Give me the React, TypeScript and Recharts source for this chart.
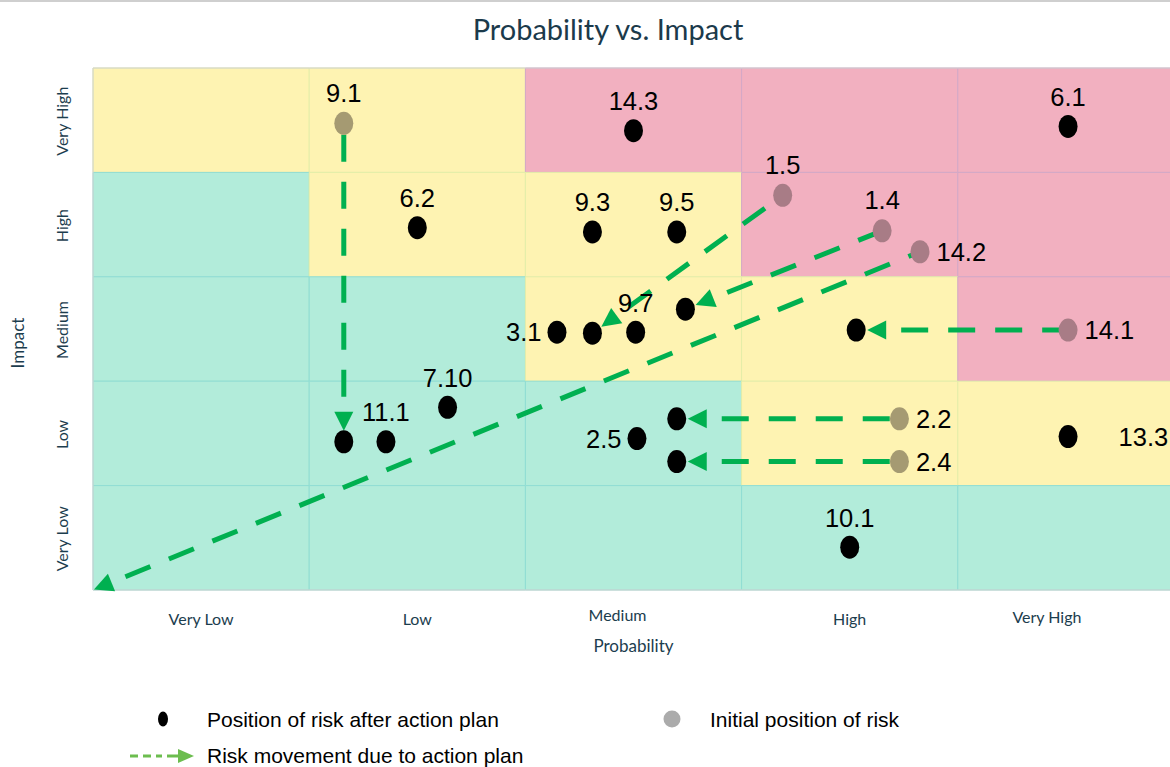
import React from "react";
import {
  ScatterChart,
  Scatter,
  XAxis,
  YAxis,
  ReferenceArea,
  ReferenceLine,
  LabelList,
} from "recharts";

// 5x5 scale used on both axes
const levels = ["Very Low", "Low", "Medium", "High", "Very High"];
const levelTicks = [0.5, 1.5, 2.5, 3.5, 4.5];

// zone of each cell, rows from Very High impact down to Very Low
const zoneRows = [
  ["amber", "amber", "red", "red", "red"],
  ["green", "amber", "amber", "red", "red"],
  ["green", "green", "amber", "amber", "red"],
  ["green", "green", "green", "amber", "amber"],
  ["green", "green", "green", "green", "green"],
];

// risks after the action plan, grouped by where their id is written
const afterLabelTop = [
  { x: 2.5, y: 4.4, id: "14.3" },
  { x: 4.51, y: 4.44, id: "6.1" },
  { x: 1.5, y: 3.47, id: "6.2" },
  { x: 2.31, y: 3.43, id: "9.3" },
  { x: 2.7, y: 3.43, id: "9.5" },
  { x: 2.51, y: 2.47, id: "9.7" },
  { x: 1.355, y: 1.42, id: "11.1" },
  { x: 1.64, y: 1.75, id: "7.10" },
  { x: 3.5, y: 0.41, id: "10.1" },
];
const afterLabelLeft = [
  { x: 2.146, y: 2.47, id: "3.1" },
  { x: 2.516, y: 1.45, id: "2.5" },
];
const afterLabelRight = [{ x: 4.51, y: 1.47, id: "13.3" }];
const afterUnlabelled = [
  { x: 2.31, y: 2.46, id: "1.5" },
  { x: 2.74, y: 2.69, id: "1.4" },
  { x: 3.53, y: 2.49, id: "14.1" },
  { x: 1.16, y: 1.42, id: "9.1" },
  { x: 2.7, y: 1.64, id: "2.2" },
  { x: 2.7, y: 1.23, id: "2.4" },
];

// initial positions of the risks that moved
const initialLabelTop = [
  { x: 1.16, y: 4.47, id: "9.1" },
  { x: 3.19, y: 3.78, id: "1.5" },
  { x: 3.65, y: 3.44, id: "1.4" },
];
const initialLabelRight = [
  { x: 3.825, y: 3.24, id: "14.2" },
  { x: 4.51, y: 2.49, id: "14.1" },
  { x: 3.73, y: 1.64, id: "2.2" },
  { x: 3.73, y: 1.23, id: "2.4" },
];

// movement from initial position to the position after the plan
const moves = [
  { id: "9.1", x1: 1.16, y1: 4.47, x2: 1.16, y2: 1.42 },
  { id: "1.5", x1: 3.19, y1: 3.78, x2: 2.31, y2: 2.46 },
  { id: "1.4", x1: 3.65, y1: 3.44, x2: 2.74, y2: 2.69 },
  { id: "14.2", x1: 3.825, y1: 3.24, x2: 0, y2: 0 },
  { id: "14.1", x1: 4.51, y1: 2.49, x2: 3.53, y2: 2.49 },
  { id: "2.2", x1: 3.73, y1: 1.64, x2: 2.7, y2: 1.64 },
  { id: "2.4", x1: 3.73, y1: 1.23, x2: 2.7, y2: 1.23 },
];

const zoneFill: Record<string, string> = { green: "#B2ECDA", amber: "#FEF3B2", red: "#F2B0C0" };
const zoneStroke: Record<string, string> = { green: "#90DDD3", amber: "#E4EDA8", red: "#D3A8C6" };
const initialFill: Record<string, string> = { green: "#9DB3A8", amber: "#A59A72", red: "#A87C86" };

const MOVE_GREEN = "#00B050";
const LEGEND_GREEN = "#6CBD4F";
const AXIS_TEXT = "#1C3D4E";
const TICK_FONT = "Lato, 'Open Sans', sans-serif";
const MARK_FONT = "'Liberation Sans', Arial, sans-serif";

const zoneAt = (x: number, y: number) => {
  const col = Math.min(4, Math.max(0, Math.floor(x)));
  const row = Math.min(4, Math.max(0, 4 - Math.floor(y)));
  return zoneRows[row][col];
};

const AfterDot = (p: any) => <ellipse cx={p.cx} cy={p.cy} rx={9.5} ry={11.5} fill="#000" />;

const InitialDot = (p: any) => (
  <ellipse cx={p.cx} cy={p.cy} rx={9.5} ry={11.5} fill={initialFill[zoneAt(p.payload.x, p.payload.y)]} />
);

// dashed arrow, pattern counted back from the arrow head
const MoveArrow = (props: any) => {
  const { x1, y1, x2, y2, gap } = props;
  if ([x1, y1, x2, y2].some((v) => v == null || isNaN(v))) return null;
  const len = Math.hypot(x2 - x1, y2 - y1);
  const ux = (x2 - x1) / len;
  const uy = (y2 - y1) / len;
  const tipX = x2 - ux * gap;
  const tipY = y2 - uy * gap;
  const head = 19;
  const half = 9.5;
  const bx = tipX - ux * head;
  const by = tipY - uy * head;
  return (
    <g>
      <line
        x1={bx}
        y1={by}
        x2={x1}
        y2={y1}
        stroke={MOVE_GREEN}
        strokeWidth={5}
        strokeDasharray="27 20"
        strokeDashoffset={32}
      />
      <polygon
        points={`${tipX},${tipY} ${bx - uy * half},${by + ux * half} ${bx + uy * half},${by - ux * half}`}
        fill={MOVE_GREEN}
      />
    </g>
  );
};

const xTickNudge: Record<string, [number, number]> = {
  Medium: [-16, -4],
  "Very High": [-19, -2],
};

const XTick = ({ x, y, payload }: any) => {
  const label = levels[Math.floor(payload.value)];
  const [dx, dy] = xTickNudge[label] ?? [0, 0];
  return (
    <text x={x + dx} y={y + 35 + dy} textAnchor="middle" fill={AXIS_TEXT} fontSize={16} fontFamily={TICK_FONT}>
      {label}
    </text>
  );
};

const YTick = ({ x, y, payload }: any) => {
  const label = levels[Math.floor(payload.value)];
  return (
    <text
      transform={`translate(${x - 25},${y + 1}) rotate(-90)`}
      textAnchor="middle"
      fill={AXIS_TEXT}
      fontSize={16}
      fontFamily={TICK_FONT}
    >
      {label}
    </text>
  );
};

const labelStyle = { fill: "#000", fontSize: 25.5, fontFamily: MARK_FONT };

const Legend = () => (
  <div style={{ position: "absolute", left: 0, top: 695, width: 1170, height: 72 }}>
    <svg width={1170} height={72} style={{ display: "block" }}>
      <ellipse cx={163} cy={22} rx={5} ry={7.5} fill="#000" />
      <text x={207} y={30} fontSize={21} fontFamily={MARK_FONT} fill="#000">
        Position of risk after action plan
      </text>
      <circle cx={672} cy={22} r={8.5} fill="#ABABAB" />
      <text x={710} y={30} fontSize={21} fontFamily={MARK_FONT} fill="#000">
        Initial position of risk
      </text>
      <line x1={130} y1={59} x2={162} y2={59} stroke={LEGEND_GREEN} strokeWidth={3} strokeDasharray="8 5" />
      <line x1={167} y1={59} x2={180} y2={59} stroke={LEGEND_GREEN} strokeWidth={3} />
      <polygon points="194,59 178,52 178,66" fill={LEGEND_GREEN} />
      <text x={207} y={66} fontSize={21} fontFamily={MARK_FONT} fill="#000">
        Risk movement due to action plan
      </text>
    </svg>
  </div>
);

export default function App() {
  return (
    <div
      style={{
        position: "absolute",
        left: 0,
        top: 0,
        width: 1170,
        height: 767,
        overflow: "hidden",
        background: "#fff",
        borderTop: "2px solid #cfcfcf",
        boxSizing: "border-box",
      }}
    >
      <div
        style={{
          position: "absolute",
          left: 0,
          top: 9,
          width: 1216,
          textAlign: "center",
          fontFamily: TICK_FONT,
          fontSize: 29,
          color: "#1B3A4B",
        }}
      >
        Probability vs. Impact
      </div>
      <div style={{ position: "absolute", left: 0, top: -2 }}>
        <ScatterChart width={1180} height={767} margin={{ top: 68, right: 6, bottom: 0, left: 0 }}>
          <XAxis
            type="number"
            dataKey="x"
            domain={[0, 5]}
            ticks={levelTicks}
            tick={<XTick />}
            tickLine={false}
            axisLine={false}
            tickSize={0}
            tickMargin={0}
            height={177}
            interval={0}
            label={{
              value: "Probability",
              position: "insideTop",
              offset: 50,
              fill: AXIS_TEXT,
              fontSize: 17,
              fontFamily: TICK_FONT,
            }}
          />
          <YAxis
            type="number"
            dataKey="y"
            domain={[0, 5]}
            ticks={levelTicks}
            tick={<YTick />}
            tickLine={false}
            axisLine={false}
            tickSize={0}
            tickMargin={0}
            width={93}
            interval={0}
            label={{
              content: ({ viewBox }: any) => (
                <text
                  transform={`translate(${viewBox.x + 24},${viewBox.y + viewBox.height / 2 + 14}) rotate(-90)`}
                  textAnchor="middle"
                  fill={AXIS_TEXT}
                  fontSize={17}
                  fontFamily={TICK_FONT}
                >
                  Impact
                </text>
              ),
            }}
          />

          {zoneRows.map((row, r) =>
            row.map((zone, c) => (
              <ReferenceArea
                key={`${r}-${c}`}
                x1={c}
                x2={c + 1}
                y1={4 - r}
                y2={5 - r}
                fill={zoneFill[zone]}
                fillOpacity={1}
                stroke={zoneStroke[zone]}
                strokeWidth={1}
                isFront={false}
              />
            ))
          )}
          <ReferenceArea x1={0} x2={5} y1={0} y2={5} fill="none" stroke="#d2d2d2" strokeWidth={1} />

          {moves.map((m) => (
            <ReferenceLine
              key={m.id}
              segment={[
                { x: m.x1, y: m.y1 },
                { x: m.x2, y: m.y2 },
              ]}
              ifOverflow="visible"
              shape={(p: any) => <MoveArrow {...p} gap={m.x2 === 0 && m.y2 === 0 ? 1 : 11} />}
            />
          ))}

          <Scatter data={afterUnlabelled} shape={AfterDot} isAnimationActive={false} />
          <Scatter data={afterLabelTop} shape={AfterDot} isAnimationActive={false}>
            <LabelList dataKey="id" position="top" offset={16} {...labelStyle} />
          </Scatter>
          <Scatter data={afterLabelLeft} shape={AfterDot} isAnimationActive={false}>
            <LabelList dataKey="id" position="left" offset={11} {...labelStyle} />
          </Scatter>
          <Scatter data={afterLabelRight} shape={AfterDot} isAnimationActive={false}>
            <LabelList dataKey="id" position="right" offset={46} {...labelStyle} />
          </Scatter>
          <Scatter data={initialLabelTop} shape={InitialDot} isAnimationActive={false}>
            <LabelList dataKey="id" position="top" offset={17} {...labelStyle} />
          </Scatter>
          <Scatter data={initialLabelRight} shape={InitialDot} isAnimationActive={false}>
            <LabelList dataKey="id" position="right" offset={12} {...labelStyle} />
          </Scatter>
        </ScatterChart>
      </div>
      <Legend />
    </div>
  );
}
